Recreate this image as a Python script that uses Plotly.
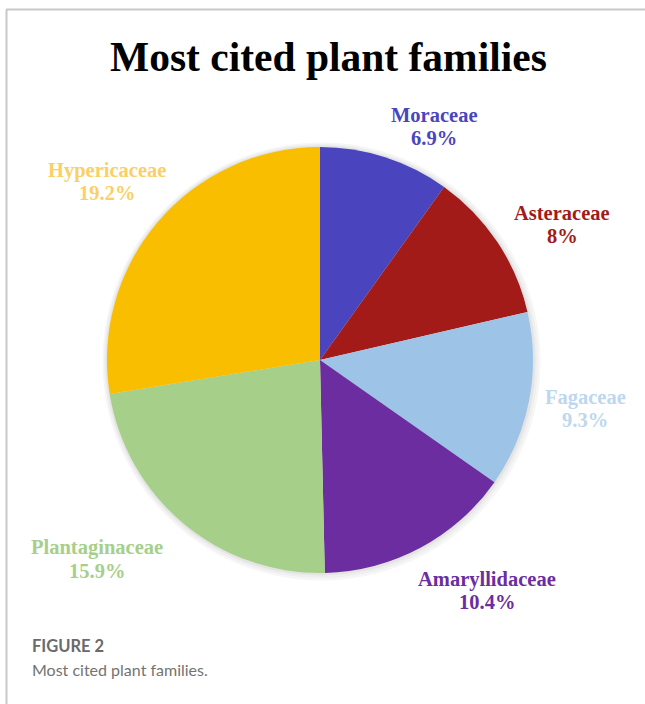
import plotly.graph_objects as go

# Share of citations by plant family (shown as percentages)
families = ["Moraceae", "Asteraceae", "Fagaceae", "Amaryllidaceae", "Plantaginaceae", "Hypericaceae"]
shares = [6.9, 8, 9.3, 10.4, 15.9, 19.2]

slice_colors = ["#4A45BF", "#A21B19", "#9DC3E6", "#6B2D9F", "#A6CF8A", "#F9BE00"]
label_colors = ["#4A45BF", "#A21B19", "#BDD7EE", "#6B2D9F", "#A6CF8A", "#FAD066"]

# Label anchor positions in pixels (x, y from top-left) for the outside labels
label_pos = [(434, 126.5), (562, 224.5), (585, 408.5), (487, 590.5), (97, 559), (107, 181.5)]

W, H = 645, 704
cx, cy, r = 320, 360, 213


def dom(rad, dx=0.0, dy=0.0):
    return dict(x=[(cx + dx - rad) / W, (cx + dx + rad) / W],
                y=[1 - (cy + dy + rad) / H, 1 - (cy + dy - rad) / H])


fig = go.Figure()

# Soft drop shadow under the pie
for extra, shade, off in [(6, "#F6F6F6", 1.5), (4, "#EFEFEF", 1.0), (2, "#E4E4E4", 0.5)]:
    fig.add_trace(go.Pie(
        values=[sum(shares)], marker=dict(colors=[shade], line=dict(width=0)),
        textinfo="none", hoverinfo="skip", showlegend=False, sort=False,
        domain=dom(r + extra, off, off),
    ))

fig.add_trace(go.Pie(
    labels=families,
    values=shares,
    sort=False,
    direction="clockwise",
    rotation=0,
    marker=dict(colors=slice_colors, line=dict(width=0)),
    textinfo="none",
    hoverinfo="label+value",
    showlegend=False,
    domain=dom(r),
))

label_font = dict(family="Liberation Serif", size=20.5, weight="bold")
annotations = []
for name, val, col, (px, py) in zip(families, shares, label_colors, label_pos):
    for text, yy in [(name, py - 11.5), (f"{val:g}%", py + 11.5)]:
        annotations.append(dict(
            x=px / W, y=1 - yy / H, xref="paper", yref="paper",
            text=text, showarrow=False,
            xanchor="center", yanchor="middle",
            font=dict(color=col, **label_font),
        ))

# Chart title
annotations.append(dict(
    x=328 / W, y=1 - 57 / H, xref="paper", yref="paper",
    text="<b>Most cited plant families</b>", showarrow=False,
    xanchor="center", yanchor="middle",
    font=dict(family="Liberation Serif", size=41.5, color="#000000"),
))

# Figure caption
annotations.append(dict(
    x=30 / W, y=1 - 646 / H, xref="paper", yref="paper",
    text="FIGURE 2", showarrow=False, xanchor="left", yanchor="middle",
    font=dict(family="Lato", size=16.5, color="#6A6A6A", weight="bold"),
))
annotations.append(dict(
    x=30 / W, y=1 - 669 / H, xref="paper", yref="paper",
    text="Most cited plant families.", showarrow=False, xanchor="left", yanchor="middle",
    font=dict(family="Lato", size=16, color="#737373"),
))

# Frame lines along top and left
shapes = [
    dict(type="line", xref="paper", yref="paper", x0=6 / W, x1=1, y0=1 - 9.5 / H, y1=1 - 9.5 / H,
         line=dict(color="#C8C8C8", width=2)),
    dict(type="line", xref="paper", yref="paper", x0=6.5 / W, x1=6.5 / W, y0=0, y1=1 - 9.5 / H,
         line=dict(color="#C8C8C8", width=2)),
]

fig.update_layout(
    width=W, height=H,
    margin=dict(l=0, r=0, t=0, b=0),
    paper_bgcolor="#FFFFFF",
    plot_bgcolor="#FFFFFF",
    annotations=annotations,
    shapes=shapes,
)

fig.write_html("out.html", config={"displayModeBar": False})
